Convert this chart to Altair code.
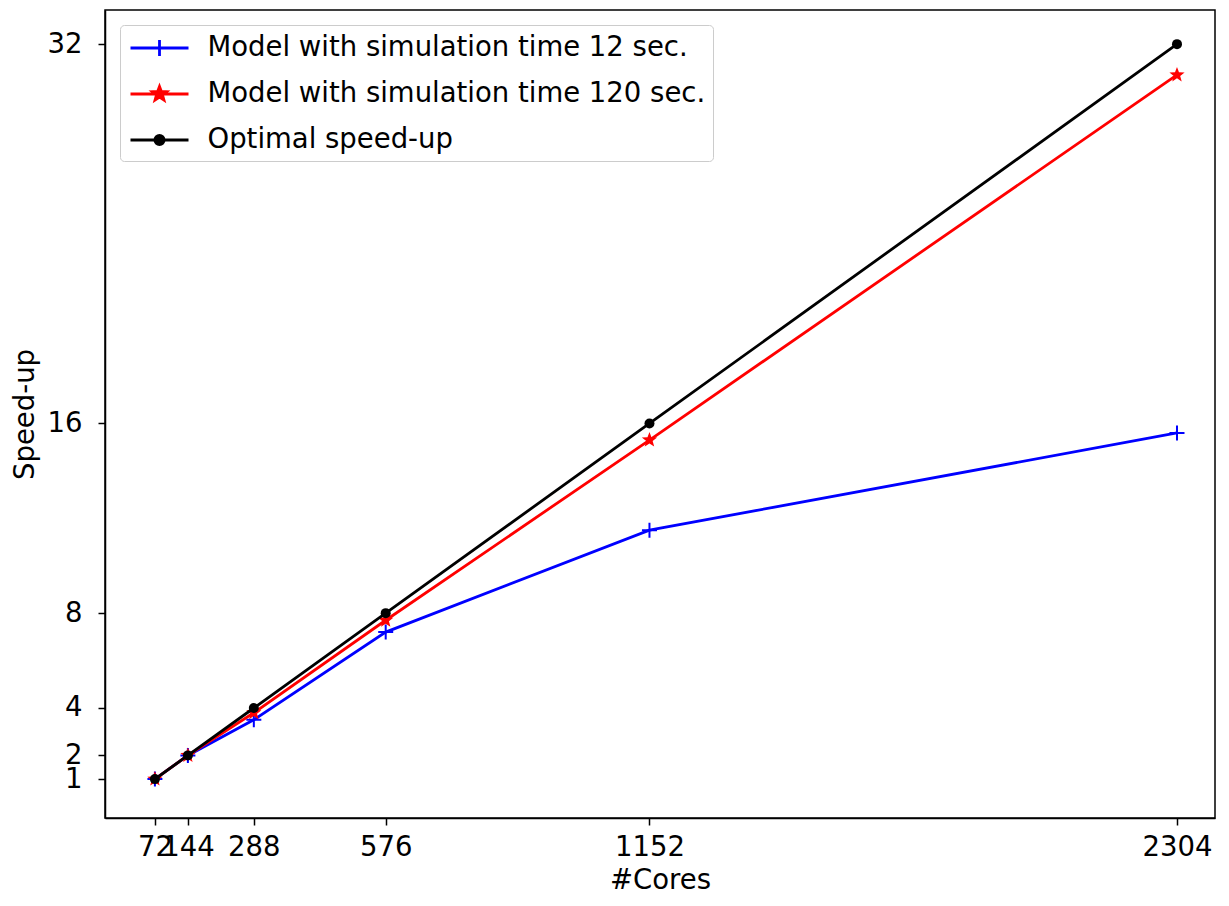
import altair as alt
import pandas as pd
import math

# ---- data ----
cores = [72, 144, 288, 576, 1152, 2304]
speedup_12 = [1, 2, 3.5, 7.2, 11.5, 15.6]
speedup_120 = [1, 2, 3.8, 7.7, 15.3, 30.7]
speedup_opt = [1, 2, 4, 8, 16, 32]
series_names = [
    "Model with simulation time 12 sec.",
    "Model with simulation time 120 sec.",
    "Optimal speed-up",
]
series_colors = ["#0000ff", "#ff0000", "#000000"]
y_ticks = [1, 2, 4, 8, 16, 32]

rows = []
for name, vals in zip(series_names, [speedup_12, speedup_120, speedup_opt]):
    for c, v in zip(cores, vals):
        rows.append({"cores": c, "speedup": v, "series": name})
df = pd.DataFrame(rows)


# ---- marker glyph paths (style only) ----
def star_path(R, ratio=0.42):
    pts = []
    for k in range(10):
        ang = math.radians(-90 + 36 * k)
        rr = R if k % 2 == 0 else R * ratio
        pts.append((rr * math.cos(ang), rr * math.sin(ang)))
    s = "M%.4f,%.4f" % pts[0]
    for p in pts[1:]:
        s += "L%.4f,%.4f" % p
    return s + "Z"


def circle_path(r):
    return "M%.4f,0A%.4f,%.4f,0,1,1,%.4f,0A%.4f,%.4f,0,1,1,%.4f,0Z" % (r, r, r, -r, r, r, r)


plus_marker = "M-1,0H1M0,-1V1"
star_marker = star_path(1.0)

leg_line = "M-2,0H2"
legend_paths = [
    leg_line + "M0,-0.55V0.55M-0.55,0H0.55",
    leg_line + star_path(0.52) + star_path(0.32) + star_path(0.14),
    leg_line + circle_path(0.32) + circle_path(0.19) + circle_path(0.07),
]

x_enc = alt.X(
    "cores:Q",
    scale=alt.Scale(domain=[-37, 2387], nice=False, zero=False),
    axis=alt.Axis(values=cores, format="d", title="#Cores", labelOverlap=False, labelFlush=False,
                  labelPadding=8, titlePadding=6),
)
y_enc = alt.Y(
    "speedup:Q",
    scale=alt.Scale(domain=[-0.64, 33.44], nice=False, zero=False),
    axis=alt.Axis(values=y_ticks, format="d", title="Speed-up", labelOverlap=False, labelFlush=False,
                  labelPadding=16, titlePadding=8),
)

layers = []
marker_specs = [
    dict(shape=plus_marker, filled=False, size=225, strokeWidth=2),
    dict(shape=star_marker, filled=True, size=256),
    dict(shape="circle", filled=True, size=100),
]
for name, col, mspec in zip(series_names, series_colors, marker_specs):
    base = alt.Chart(df).transform_filter(alt.datum.series == name)
    line = base.mark_line(color=col, strokeWidth=2.8).encode(x=x_enc, y=y_enc)
    pts = base.mark_point(color=col, opacity=1, **mspec).encode(x=x_enc, y=y_enc)
    layers += [line, pts]

leg = alt.Legend(orient="none", legendX=15, legendY=15, title=None,
                 labelExpr="datum.label + '     '")
legend_layer = (
    alt.Chart(df)
    .transform_filter("false")
    .mark_point(filled=False, opacity=1, strokeWidth=2.8)
    .encode(
        color=alt.Color("series:N", scale=alt.Scale(domain=series_names, range=series_colors), legend=leg),
        shape=alt.Shape("series:N", scale=alt.Scale(domain=series_names, range=legend_paths), legend=leg),
    )
)
layers.append(legend_layer)

chart = (
    alt.layer(*layers)
    .properties(
        width=1110,
        height=808,
        autosize=alt.AutoSizeParams(type="none"),
        padding={"left": 97, "top": 2, "right": 4, "bottom": 79},
    )
    .configure_view(stroke="black", strokeWidth=1.5)
    .configure_axis(
        labelFont="DejaVu Sans", titleFont="DejaVu Sans",
        labelFontSize=27.5, titleFontSize=27.5, titleFontWeight="normal",
        labelColor="black", titleColor="black",
        tickColor="black", domainColor="black",
        tickSize=7, tickWidth=1.5, domainWidth=1.5, grid=False,
    )
    .configure_legend(
        padding=7, fillColor="white", strokeColor="#cccccc", cornerRadius=4,
        labelFont="DejaVu Sans", labelFontSize=27.5, labelColor="black",
        labelLimit=800, symbolSize=841, symbolStrokeWidth=2.8,
        rowPadding=16, symbolOffset=16.5, labelOffset=32,
    )
)

chart.save("out.html", embed_options={"renderer": "svg", "actions": False})
